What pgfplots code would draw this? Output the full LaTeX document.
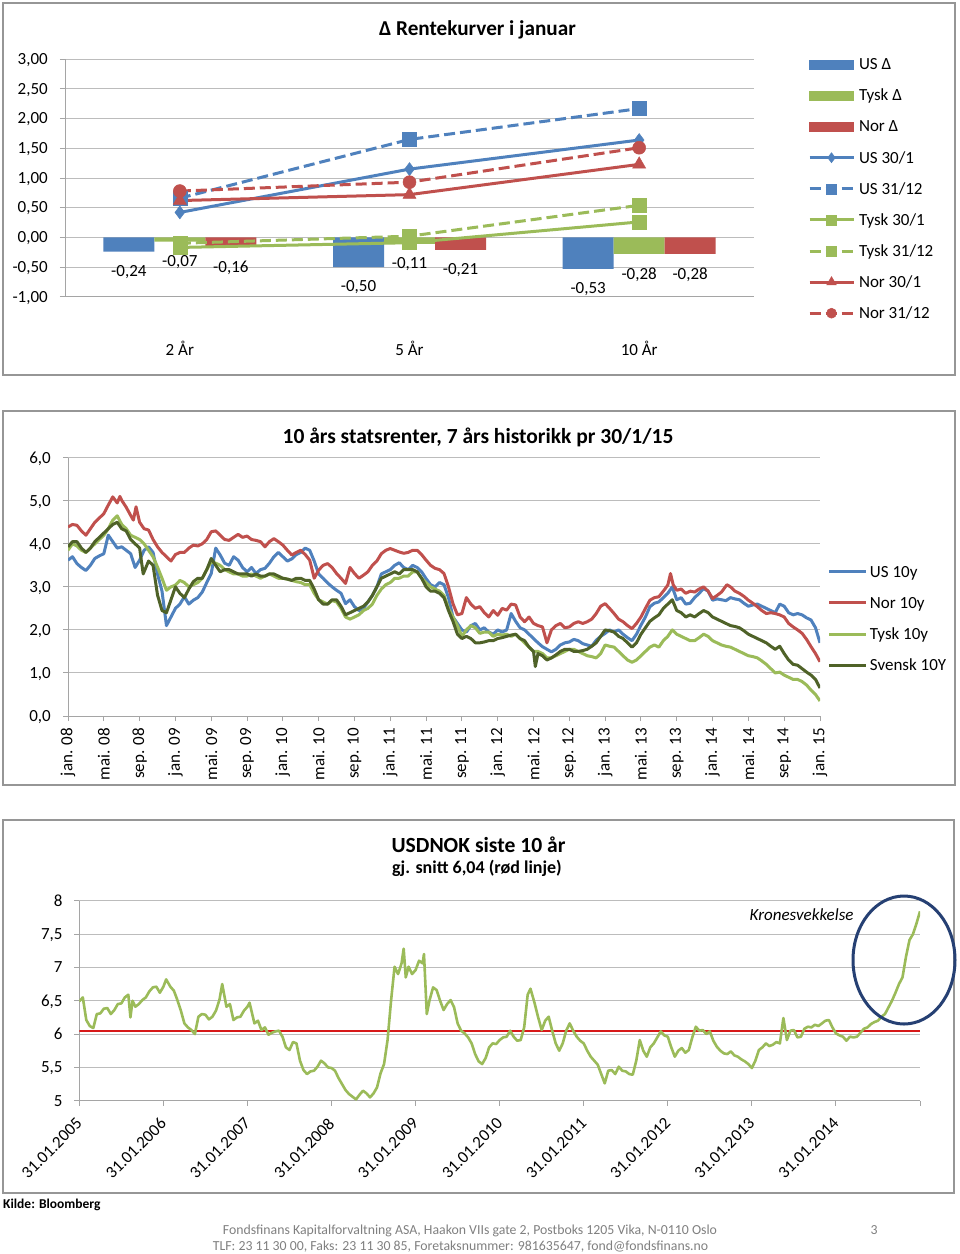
\documentclass[border=0pt]{standalone}
\usepackage{fontspec}
\setmainfont{Carlito}
\usepackage{pgfplots}
\pgfplotsset{compat=1.18}
\definecolor{xblue}{RGB}{79,129,189}
\definecolor{xred}{RGB}{192,80,77}
\definecolor{xgreen}{RGB}{155,187,89}
\definecolor{xdgreen}{RGB}{79,98,40}
\definecolor{gridc}{RGB}{188,188,188}
\definecolor{axisc}{RGB}{165,165,165}
\definecolor{bordc}{RGB}{150,150,150}
\definecolor{avgred}{RGB}{215,25,25}
\definecolor{ellc}{RGB}{38,64,115}
\definecolor{footc}{RGB}{128,128,128}
\pgfplotsset{
  /pgf/number format/assume math mode=true,
  xl/.style={
    scale only axis, anchor=south west,
    font=\fontsize{17}{20}\selectfont,
    axis lines*=left,
    axis line style={draw=axisc, line width=1pt},
    tick align=outside, major tick length=5pt,
    tick style={draw=axisc, line width=1pt},
    ymajorgrids, grid style={draw=gridc, line width=1pt},
    yticklabel style={anchor=base east, inner sep=0pt, xshift=-12pt, yshift=-5.3pt},
    legend cell align=left,
  },
  legline/.style={legend image code/.code={\draw[mark repeat=2,mark phase=2,##1] plot coordinates {(0pt,0pt) (22pt,0pt) (44pt,0pt)}; \path (48pt,0pt);}},
  legline2/.style={legend image code/.code={\draw[##1] (0pt,0pt) -- (37pt,0pt); \path (39pt,0pt);}},
  dsh/.style={dash pattern=on 11pt off 5pt},
}
\begin{document}
\begin{tikzpicture}
\fill[white] (0pt,0pt) rectangle (960pt,-1254pt);
\path[use as bounding box] (0pt,0pt) rectangle (960pt,-1254pt);
% borders
\draw[bordc, line width=2pt] (3pt,-3pt) rectangle (955pt,-375pt);
\draw[bordc, line width=2pt] (3pt,-411pt) rectangle (955pt,-785pt);
\draw[bordc, line width=2pt] (3pt,-820pt) rectangle (954pt,-1193pt);

% ---------- Panel 1 ----------
\node[anchor=base, inner sep=0pt, font=\fontsize{21.2}{24}\selectfont\bfseries] at (477.5pt,-35pt) {Δ Rentekurver i januar};
\begin{axis}[xl, at={(65pt,-296.7pt)}, width=689pt, height=237.4pt,
  xmin=-0.5, xmax=2.5, ymin=-1, ymax=3,
  xtick={0,1,2}, xticklabels={2 År,5 År,10 År}, xtick style={draw=none},
  xticklabel style={anchor=base, yshift=-53.3pt},
  ytick={-1,-0.5,0,0.5,1,1.5,2,2.5,3},
  yticklabel style={/pgf/number format/fixed, /pgf/number format/fixed zerofill, /pgf/number format/precision=2, /pgf/number format/use comma},
  legend style={at={(1.0784,1.0093)}, anchor=north west, draw=none, fill=none, inner sep=0pt, outer sep=0pt, row sep=16.5pt, column sep=0pt,
    nodes={inner sep=0pt, outer sep=0pt, text height=12.6pt, text depth=2pt}},
  nodes near coords style={/pgf/number format/fixed, /pgf/number format/fixed zerofill, /pgf/number format/precision=2, /pgf/number format/use comma, anchor=north, inner sep=0pt, yshift=-13.5pt, font=\fontsize{17}{20}\selectfont, text=black},
]
\addplot[ybar, bar width=51pt, bar shift=-51pt, fill=xblue, draw=none, forget plot, nodes near coords, every node near coord/.append style={xshift=-51pt}] coordinates {(0,-0.24) (1,-0.50) (2,-0.53)};
\addplot[ybar, bar width=51pt, bar shift=0pt, fill=xgreen, draw=none, forget plot, nodes near coords] coordinates {(0,-0.07) (1,-0.11) (2,-0.28)};
\addplot[ybar, bar width=51pt, bar shift=51pt, fill=xred, draw=none, forget plot, nodes near coords, every node near coord/.append style={xshift=51pt}] coordinates {(0,-0.16) (1,-0.21) (2,-0.28)};
\addplot[xblue, line width=3pt, mark=diamond*, mark size=6.5pt, mark options={solid, line width=0.5pt}, forget plot] coordinates {(0,0.42) (1,1.15) (2,1.64)};
\addplot[xblue, line width=3pt, dsh, mark=square*, mark size=7pt, mark options={solid, line width=0.5pt}, forget plot] coordinates {(0,0.66) (1,1.65) (2,2.17)};
\addplot[xgreen, line width=3pt, mark=square*, mark size=7pt, mark options={solid, line width=0.5pt}, forget plot] coordinates {(0,-0.17) (1,-0.09) (2,0.26)};
\addplot[xgreen, line width=3pt, dsh, mark=square*, mark size=7pt, mark options={solid, line width=0.5pt}, forget plot] coordinates {(0,-0.10) (1,0.02) (2,0.54)};
\addplot[xred, line width=3pt, mark=triangle*, mark size=7.5pt, mark options={solid, line width=0.5pt}, forget plot] coordinates {(0,0.62) (1,0.72) (2,1.23)};
\addplot[xred, line width=3pt, dsh, mark=*, mark size=6.5pt, mark options={solid, line width=0.5pt}, forget plot] coordinates {(0,0.78) (1,0.93) (2,1.51)};
\addlegendimage{legend image code/.code={\fill[xblue] (0pt,-4.7pt) rectangle (44pt,4.7pt); \path (48pt,0pt);}}
\addlegendentry{US Δ}
\addlegendimage{legend image code/.code={\fill[xgreen] (0pt,-4.7pt) rectangle (44pt,4.7pt); \path (48pt,0pt);}}
\addlegendentry{Tysk Δ}
\addlegendimage{legend image code/.code={\fill[xred] (0pt,-4.7pt) rectangle (44pt,4.7pt); \path (48pt,0pt);}}
\addlegendentry{Nor Δ}
\addlegendimage{legline, xblue, line width=3pt, mark=diamond*, mark size=5pt, mark options={solid, line width=0.5pt}}
\addlegendentry{US 30/1}
\addlegendimage{legline, xblue, line width=3pt, dsh, mark=square*, mark size=5pt, mark options={solid, line width=0.5pt}}
\addlegendentry{US 31/12}
\addlegendimage{legline, xgreen, line width=3pt, mark=square*, mark size=5pt, mark options={solid, line width=0.5pt}}
\addlegendentry{Tysk 30/1}
\addlegendimage{legline, xgreen, line width=3pt, dsh, mark=square*, mark size=5pt, mark options={solid, line width=0.5pt}}
\addlegendentry{Tysk 31/12}
\addlegendimage{legline, xred, line width=3pt, mark=triangle*, mark size=5.5pt, mark options={solid, line width=0.5pt}}
\addlegendentry{Nor 30/1}
\addlegendimage{legline, xred, line width=3pt, dsh, mark=*, mark size=5pt, mark options={solid, line width=0.5pt}}
\addlegendentry{Nor 31/12}
\end{axis}

% ---------- Panel 2 ----------
\node[anchor=base, inner sep=0pt, font=\fontsize{21.5}{24}\selectfont\bfseries] at (478pt,-443.3pt) {10 års statsrenter, 7 års historikk pr 30/1/15};
\begin{axis}[xl, at={(68pt,-716pt)}, width=752pt, height=258.3pt,
  xmin=0, xmax=84, ymin=0, ymax=6,
  xtick={0,4,...,84},
  xticklabels={jan. 08,mai. 08,sep. 08,jan. 09,mai. 09,sep. 09,jan. 10,mai. 10,sep. 10,jan. 11,mai. 11,sep. 11,jan. 12,mai. 12,sep. 12,jan. 13,mai. 13,sep. 13,jan. 14,mai. 14,sep. 14,jan. 15},
  xticklabel style={yshift=-7pt, rotate=90, anchor=east, inner sep=0pt},
  ytick={0,1,2,3,4,5,6},
  yticklabel style={/pgf/number format/fixed, /pgf/number format/fixed zerofill, /pgf/number format/precision=1, /pgf/number format/use comma},
  legend style={at={(1.0106,0.5865)}, anchor=north west, draw=none, fill=none, inner sep=0pt, outer sep=0pt, row sep=16.5pt, column sep=0pt,
    nodes={inner sep=0pt, outer sep=0pt, text height=12.6pt, text depth=2pt}},
  every axis plot/.append style={line width=3pt, line join=round, no markers},
]
\addplot[xblue, legline2] coordinates {(0,3.62)(0.5,3.70)(1,3.54)(1.5,3.45)(2,3.38)(2.5,3.50)(3,3.66)(3.5,3.72)(4,3.77)(4.5,4.20)(5,4.05)(5.5,3.90)(6,3.93)(6.5,3.85)(7,3.77)(7.5,3.45)(8,3.62)(8.5,3.85)(9,3.93)(9.5,3.80)(10,3.30)(10.5,2.90)(11,2.10)(11.5,2.30)(12,2.50)(12.5,2.60)(13,2.77)(13.5,2.60)(14,2.69)(14.5,2.75)(15,2.88)(15.5,3.10)(16,3.31)(16.5,3.90)(17,3.74)(17.5,3.55)(18,3.50)(18.5,3.70)(19,3.62)(19.5,3.45)(20,3.35)(20.5,3.45)(21,3.31)(21.5,3.40)(22,3.43)(22.5,3.55)(23,3.70)(23.5,3.80)(24,3.70)(24.5,3.60)(25,3.65)(25.5,3.75)(26,3.80)(26.5,3.90)(27,3.85)(27.5,3.60)(28,3.30)(28.5,3.20)(29,3.09)(29.5,3.00)(30,2.92)(30.5,2.85)(31,2.61)(31.5,2.70)(32,2.54)(32.5,2.45)(33,2.50)(33.5,2.65)(34,2.80)(34.5,3.00)(35,3.30)(35.5,3.35)(36,3.40)(36.5,3.50)(37,3.56)(37.5,3.45)(38,3.40)(38.5,3.50)(39,3.45)(39.5,3.35)(40,3.19)(40.5,3.05)(41,3.00)(41.5,3.10)(42,3.05)(42.5,2.75)(43,2.30)(43.5,2.15)(44,2.00)(44.5,1.95)(45,2.10)(45.5,2.15)(46,2.00)(46.5,2.05)(47,1.95)(47.5,1.90)(48,2.00)(48.5,1.95)(49,2.00)(49.5,2.38)(50,2.20)(50.5,2.05)(51,2.00)(51.5,1.90)(52,1.80)(52.5,1.70)(53,1.61)(53.5,1.55)(54,1.49)(54.5,1.55)(55,1.65)(55.5,1.70)(56,1.72)(56.5,1.78)(57,1.75)(57.5,1.68)(58,1.65)(58.5,1.62)(59,1.76)(59.5,1.85)(60,1.92)(60.5,2.00)(61,1.95)(61.5,2.00)(62,1.90)(62.5,1.82)(63,1.75)(63.5,1.90)(64,2.11)(64.5,2.30)(65,2.54)(65.5,2.62)(66,2.65)(66.5,2.75)(67,2.85)(67.5,3.00)(68,2.70)(68.5,2.75)(69,2.60)(69.5,2.62)(70,2.75)(70.5,2.85)(71,2.96)(71.5,2.90)(72,2.69)(72.5,2.72)(73,2.70)(73.5,2.68)(74,2.75)(74.5,2.72)(75,2.70)(75.5,2.62)(76,2.55)(76.5,2.58)(77,2.60)(77.5,2.55)(78,2.50)(78.5,2.45)(79,2.40)(79.5,2.60)(80,2.55)(80.5,2.40)(81,2.35)(81.5,2.38)(82,2.35)(82.5,2.28)(83,2.23)(83.5,2.05)(84,1.70)};
\addlegendentry{US 10y}
\addplot[xred, legline2] coordinates {(0,4.39)(0.5,4.45)(1,4.43)(1.5,4.30)(2,4.20)(2.5,4.35)(3,4.50)(3.5,4.60)(4,4.70)(4.5,4.90)(5,5.09)(5.5,4.95)(5.8,5.10)(6,5.01)(6.5,4.85)(7,4.66)(7.3,4.55)(7.6,4.86)(8,4.50)(8.5,4.35)(9,4.32)(9.5,4.10)(10,3.93)(10.5,3.80)(11,3.70)(11.5,3.60)(12,3.75)(12.5,3.80)(13,3.80)(13.5,3.90)(14,3.97)(14.5,3.95)(15,4.00)(15.5,4.10)(16,4.28)(16.5,4.30)(17,4.20)(17.5,4.10)(18,4.08)(18.5,4.15)(19,4.22)(19.5,4.15)(20,4.18)(20.5,4.10)(21,4.08)(21.5,4.05)(22,3.93)(22.5,4.05)(23,4.12)(23.5,4.05)(24,3.97)(24.5,3.85)(25,3.74)(25.5,3.80)(26,3.85)(26.5,3.75)(27,3.62)(27.5,3.20)(28,3.39)(28.5,3.50)(29,3.54)(29.5,3.45)(30,3.31)(30.5,3.20)(31,3.08)(31.5,3.45)(32,3.31)(32.5,3.20)(33,3.27)(33.5,3.35)(34,3.50)(34.5,3.60)(35,3.77)(35.5,3.85)(36,3.89)(36.5,3.85)(37,3.81)(37.5,3.78)(38,3.80)(38.5,3.85)(39,3.85)(39.5,3.75)(40,3.62)(40.5,3.50)(41,3.43)(41.5,3.40)(42,3.31)(42.5,3.00)(43,2.61)(43.5,2.35)(44,2.38)(44.5,2.75)(45,2.60)(45.5,2.50)(46,2.54)(46.5,2.40)(47,2.30)(47.5,2.45)(48,2.34)(48.5,2.50)(49,2.46)(49.5,2.60)(50,2.58)(50.5,2.30)(51,2.19)(51.5,2.30)(52,2.15)(52.5,2.10)(53,2.07)(53.5,1.70)(54,2.00)(54.5,2.10)(55,2.15)(55.5,2.05)(56,2.07)(56.5,2.15)(57,2.19)(57.5,2.15)(58,2.19)(58.5,2.25)(59,2.38)(59.5,2.55)(60,2.61)(60.5,2.50)(61,2.38)(61.5,2.25)(62,2.19)(62.5,2.10)(63,2.03)(63.5,2.15)(64,2.30)(64.5,2.50)(65,2.69)(65.5,2.75)(66,2.77)(66.5,2.90)(67,3.04)(67.3,3.31)(67.6,3.05)(68,2.92)(68.5,2.95)(69,2.85)(69.5,2.90)(70,2.88)(70.5,2.95)(71,3.00)(71.5,2.90)(72,2.73)(72.5,2.80)(73,2.88)(73.6,3.05)(74,3.00)(74.5,2.90)(75,2.85)(75.5,2.78)(76,2.69)(76.5,2.62)(77,2.54)(77.5,2.45)(78,2.38)(78.5,2.40)(79,2.38)(79.5,2.35)(80,2.30)(80.5,2.15)(81,2.07)(81.5,2.00)(82,1.92)(82.5,1.78)(83,1.61)(83.5,1.45)(84,1.26)};
\addlegendentry{Nor 10y}
\addplot[xgreen, legline2] coordinates {(0,3.85)(0.5,4.00)(1,3.95)(1.5,3.85)(2,3.80)(2.5,3.90)(3,4.00)(3.5,4.10)(4,4.20)(4.5,4.35)(5,4.55)(5.5,4.65)(6,4.45)(6.5,4.35)(7,4.20)(7.5,4.15)(8,4.10)(8.5,4.00)(9,3.85)(9.5,3.70)(10,3.46)(10.5,3.20)(11,2.92)(11.5,3.00)(12,3.04)(12.5,3.15)(13,3.10)(13.5,3.00)(14,3.05)(14.5,3.10)(15,3.20)(15.5,3.40)(16,3.58)(16.5,3.55)(17,3.50)(17.5,3.40)(18,3.35)(18.5,3.30)(19,3.30)(19.5,3.25)(20,3.25)(20.5,3.30)(21,3.25)(21.5,3.20)(22,3.25)(22.5,3.30)(23,3.25)(23.5,3.20)(24,3.20)(24.5,3.18)(25,3.15)(25.5,3.12)(26,3.10)(26.5,3.05)(27,3.05)(27.5,2.85)(28,2.70)(28.5,2.65)(29,2.60)(29.5,2.68)(30,2.65)(30.5,2.50)(31,2.30)(31.5,2.25)(32,2.30)(32.5,2.35)(33,2.45)(33.5,2.50)(34,2.60)(34.5,2.80)(35,2.95)(35.5,3.05)(36,3.10)(36.5,3.20)(37,3.20)(37.5,3.25)(38,3.25)(38.5,3.35)(39,3.35)(39.5,3.20)(40,3.10)(40.5,3.00)(41,2.95)(41.5,2.90)(42,2.80)(42.5,2.50)(43,2.30)(43.5,2.10)(44,1.85)(44.5,2.00)(45,2.10)(45.5,2.05)(46,1.92)(46.5,1.95)(47,1.95)(47.5,1.85)(48,1.90)(48.5,1.88)(49,1.90)(49.5,1.85)(50,1.90)(50.5,1.80)(51,1.70)(51.5,1.60)(52,1.50)(52.5,1.50)(53,1.45)(53.5,1.35)(54,1.35)(54.5,1.40)(55,1.45)(55.5,1.50)(56,1.55)(56.5,1.55)(57,1.50)(57.5,1.45)(58,1.40)(58.5,1.38)(59,1.35)(59.5,1.45)(60,1.65)(60.5,1.62)(61,1.60)(61.5,1.50)(62,1.40)(62.5,1.30)(63,1.25)(63.5,1.30)(64,1.40)(64.5,1.50)(65,1.60)(65.5,1.65)(66,1.60)(66.5,1.75)(67,1.85)(67.5,2.00)(68,1.90)(68.5,1.85)(69,1.80)(69.5,1.75)(70,1.75)(70.5,1.82)(71,1.90)(71.5,1.85)(72,1.75)(72.5,1.70)(73,1.65)(73.5,1.62)(74,1.60)(74.5,1.55)(75,1.50)(75.5,1.45)(76,1.40)(76.5,1.38)(77,1.35)(77.5,1.28)(78,1.20)(78.5,1.10)(79,1.00)(79.5,1.02)(80,0.95)(80.5,0.90)(81,0.85)(81.5,0.85)(82,0.80)(82.5,0.72)(83,0.60)(83.5,0.50)(84,0.35)};
\addlegendentry{Tysk 10y}
\addplot[xdgreen, legline2] coordinates {(0,3.93)(0.5,4.05)(1,4.05)(1.5,3.90)(2,3.80)(2.5,3.90)(3,4.05)(3.5,4.15)(4,4.25)(4.5,4.35)(5,4.45)(5.5,4.50)(6,4.35)(6.5,4.30)(7,4.10)(7.5,4.00)(8,3.90)(8.4,3.30)(9,3.60)(9.5,3.50)(10,2.81)(10.5,2.45)(11,2.40)(11.5,2.70)(12,3.00)(12.5,2.85)(13,2.75)(13.5,2.95)(14,3.12)(14.5,3.20)(15,3.20)(15.5,3.40)(16,3.66)(16.5,3.50)(17,3.35)(17.5,3.40)(18,3.40)(18.5,3.35)(19,3.30)(19.5,3.30)(20,3.30)(20.5,3.25)(21,3.30)(21.5,3.25)(22,3.25)(22.5,3.30)(23,3.30)(23.5,3.25)(24,3.20)(24.5,3.18)(25,3.15)(25.5,3.20)(26,3.20)(26.5,3.15)(27,3.15)(27.5,2.95)(28,2.70)(28.5,2.60)(29,2.60)(29.5,2.70)(30,2.70)(30.5,2.55)(31,2.35)(31.5,2.40)(32,2.45)(32.5,2.50)(33,2.55)(33.5,2.65)(34,2.80)(34.5,3.00)(35,3.20)(35.5,3.25)(36,3.30)(36.5,3.35)(37,3.30)(37.5,3.40)(38,3.40)(38.5,3.40)(39,3.35)(39.5,3.20)(40,3.00)(40.5,2.90)(41,2.90)(41.5,2.85)(42,2.75)(42.5,2.45)(43,2.20)(43.5,1.90)(44,1.80)(44.5,1.85)(45,1.80)(45.5,1.70)(46,1.70)(46.5,1.72)(47,1.75)(47.5,1.75)(48,1.80)(48.5,1.82)(49,1.85)(49.5,1.88)(50,1.90)(50.5,1.80)(51,1.75)(51.5,1.60)(52,1.50)(52.2,1.15)(52.5,1.45)(53,1.40)(53.5,1.30)(54,1.35)(54.5,1.42)(55,1.50)(55.5,1.55)(56,1.55)(56.5,1.50)(57,1.50)(57.5,1.52)(58,1.55)(58.5,1.62)(59,1.70)(59.5,1.85)(60,2.00)(60.5,1.98)(61,1.95)(61.5,1.85)(62,1.80)(62.5,1.70)(63,1.60)(63.5,1.70)(64,1.90)(64.5,2.05)(65,2.20)(65.5,2.28)(66,2.35)(66.5,2.50)(67,2.60)(67.5,2.70)(68,2.45)(68.5,2.40)(69,2.30)(69.5,2.35)(70,2.30)(70.5,2.38)(71,2.45)(71.5,2.40)(72,2.30)(72.5,2.25)(73,2.20)(73.5,2.15)(74,2.10)(74.5,2.08)(75,2.05)(75.5,1.98)(76,1.90)(76.5,1.85)(77,1.80)(77.5,1.75)(78,1.70)(78.5,1.62)(79,1.55)(79.5,1.62)(80,1.45)(80.5,1.30)(81,1.20)(81.5,1.18)(82,1.10)(82.5,1.02)(83,0.95)(83.5,0.85)(84,0.65)};
\addlegendentry{Svensk 10Y}
\end{axis}

% ---------- Panel 3 ----------
\node[anchor=base, inner sep=0pt, font=\fontsize{21.6}{24}\selectfont\bfseries] at (478.5pt,-852.3pt) {USDNOK siste 10 år};
\node[anchor=base, inner sep=0pt, font=\fontsize{18}{21}\selectfont\bfseries] at (477pt,-873pt) {gj. snitt 6,04 (rød linje)};
\begin{axis}[xl, at={(79.3pt,-1100.7pt)}, width=840.7pt, height=200pt,
  xmin=0, xmax=120, ymin=5, ymax=8,
  xtick={0,12,...,120},
  xticklabels={31.01.2005,31.01.2006,31.01.2007,31.01.2008,31.01.2009,31.01.2010,31.01.2011,31.01.2012,31.01.2013,31.01.2014,{}},
  xticklabel style={xshift=0pt, yshift=-15pt, rotate=45, anchor=east, inner sep=0pt},
  ytick={5,5.5,6,6.5,7,7.5,8},
  yticklabel style={/pgf/number format/use comma, xshift=0.4pt},
]
\addplot[avgred, line width=2pt, no markers] coordinates {(0,6.04) (120,6.04)};
\addplot[xgreen, line width=2.6pt, line join=round, no markers] coordinates {(0,6.49)(0.5,6.55)(1,6.21)(1.5,6.12)(2,6.09)(2.5,6.30)(3,6.31)(3.5,6.38)(4,6.39)(4.5,6.30)(5,6.36)(5.5,6.45)(6,6.46)(6.5,6.55)(7,6.59)(7.3,6.25)(7.6,6.50)(8,6.41)(8.5,6.45)(9,6.51)(9.5,6.55)(10,6.64)(10.5,6.70)(11,6.71)(11.5,6.62)(12,6.71)(12.4,6.82)(13,6.71)(13.5,6.65)(14,6.51)(14.5,6.35)(15,6.16)(15.5,6.10)(16,6.06)(16.5,6.00)(17,6.26)(17.5,6.30)(18,6.29)(18.5,6.22)(19,6.26)(19.5,6.35)(20,6.51)(20.4,6.75)(21,6.41)(21.5,6.45)(22,6.21)(22.5,6.25)(23,6.26)(23.5,6.35)(24,6.41)(24.3,6.47)(25,6.16)(25.5,6.20)(26,6.06)(26.5,6.10)(27,5.99)(27.5,6.02)(28,6.04)(28.5,6.05)(29,5.96)(29.5,5.80)(30,5.76)(30.5,5.88)(31,5.86)(31.5,5.60)(32,5.46)(32.5,5.40)(33,5.44)(33.5,5.45)(34,5.51)(34.5,5.60)(35,5.56)(35.5,5.50)(36,5.49)(36.5,5.45)(37,5.34)(37.5,5.25)(38,5.16)(38.5,5.10)(39,5.06)(39.5,5.02)(40,5.09)(40.5,5.15)(41,5.11)(41.5,5.05)(42,5.11)(42.5,5.20)(43,5.41)(43.5,5.55)(44,5.91)(44.5,6.50)(45,7.01)(45.5,6.90)(46,7.06)(46.3,7.28)(46.6,6.85)(47,7.01)(47.5,6.90)(48,6.96)(48.5,7.10)(49,7.06)(49.2,7.20)(49.6,6.30)(50,6.51)(50.5,6.70)(51,6.66)(51.5,6.50)(52,6.36)(52.5,6.45)(53,6.51)(53.5,6.40)(54,6.16)(54.5,6.05)(55,6.01)(55.5,5.95)(56,5.86)(56.5,5.70)(57,5.59)(57.5,5.55)(58,5.64)(58.5,5.80)(59,5.86)(59.5,5.85)(60,5.91)(60.5,5.95)(61,5.96)(61.5,6.05)(62,5.96)(62.5,5.90)(63,5.91)(63.5,6.10)(64,6.59)(64.4,6.68)(65,6.46)(65.5,6.25)(66,6.06)(66.5,6.20)(67,6.26)(67.5,6.05)(68,5.86)(68.5,5.75)(69,5.86)(69.5,6.05)(70,6.16)(70.5,6.05)(71,5.96)(71.5,5.90)(72,5.86)(72.5,5.75)(73,5.66)(73.5,5.60)(74,5.54)(74.5,5.40)(75,5.26)(75.5,5.45)(76,5.46)(76.5,5.40)(77,5.51)(77.5,5.45)(78,5.44)(78.5,5.40)(79,5.39)(79.5,5.60)(80,5.91)(80.5,5.75)(81,5.66)(81.5,5.80)(82,5.86)(82.5,5.95)(83,6.04)(83.5,5.98)(84,5.96)(84.5,5.80)(85,5.66)(85.5,5.75)(86,5.79)(86.5,5.72)(87,5.76)(87.5,5.95)(88,6.11)(88.5,6.05)(89,6.06)(89.5,6.00)(90,6.04)(90.5,5.90)(91,5.81)(91.5,5.75)(92,5.71)(92.5,5.70)(93,5.74)(93.5,5.68)(94,5.66)(94.5,5.62)(95,5.59)(95.5,5.55)(96,5.49)(96.5,5.60)(97,5.76)(97.5,5.80)(98,5.86)(98.5,5.82)(99,5.84)(99.5,5.88)(100,5.86)(100.5,6.24)(101,5.91)(101.5,6.05)(102,6.06)(102.5,5.95)(103,5.96)(103.5,6.08)(104,6.11)(104.5,6.10)(105,6.14)(105.5,6.12)(106,6.16)(106.5,6.20)(107,6.21)(107.5,6.10)(108,6.01)(108.5,5.98)(109,5.96)(109.5,5.90)(110,5.96)(110.5,5.95)(111,5.96)(111.5,6.02)(112,6.08)(112.5,6.10)(113,6.15)(113.5,6.18)(114,6.20)(114.5,6.26)(115,6.30)(115.5,6.40)(116,6.50)(116.5,6.62)(117,6.75)(117.5,6.85)(118,7.16)(118.5,7.41)(119,7.50)(119.5,7.66)(120,7.84)};
\end{axis}
\draw[ellc, line width=3pt] (904pt,-960pt) ellipse [x radius=51pt, y radius=64pt];
\node[anchor=base, inner sep=0pt, font=\fontsize{17}{20}\selectfont\itshape] at (801.5pt,-920pt) {Kronesvekkelse};

% ---------- Footer ----------
\node[anchor=base west, inner sep=0pt, font=\fontsize{13.5}{16}\selectfont\bfseries] at (3pt,-1208pt) {Kilde: Bloomberg};
\node[anchor=base, inner sep=0pt, text=footc, font=\fontsize{13.8}{16}\selectfont] at (470pt,-1234pt) {Fondsfinans Kapitalforvaltning ASA, Haakon VIIs gate 2, Postboks 1205 Vika, N-0110 Oslo};
\node[anchor=base, inner sep=0pt, text=footc, font=\fontsize{13.8}{16}\selectfont] at (460.5pt,-1250.5pt) {TLF: 23 11 30 00, Faks: 23 11 30 85, Foretaksnummer: 981635647, fond@fondsfinans.no};
\node[anchor=base, inner sep=0pt, text=footc, font=\fontsize{13.8}{16}\selectfont] at (874pt,-1234pt) {3};
\end{tikzpicture}
\end{document}
